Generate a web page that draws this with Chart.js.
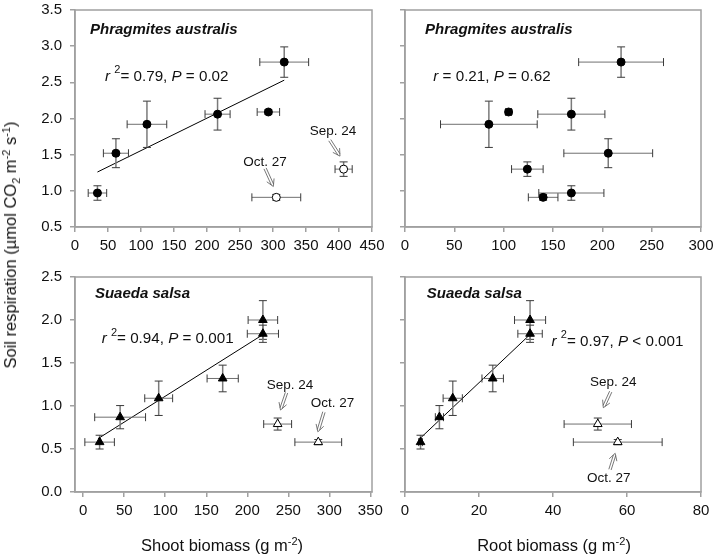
<!DOCTYPE html>
<html>
<head>
<meta charset="utf-8">
<script src="https://cdn.jsdelivr.net/npm/chart.js@4.4.1/dist/chart.umd.min.js"></script>
<style>
  body { margin: 0; background: #fff; }
  #wrap { position: relative; width: 718px; height: 559px; font-family: "Liberation Sans", Arial, sans-serif; }
  #wrap canvas { position: absolute; left: 0; top: 0; }
  .title { position: absolute; font-size: 16.5px; line-height: 20px; color: #111; white-space: nowrap; }
  .title sup, .title sub { font-size: 11px; line-height: 0; }
  #yTitle { left: 10px; top: 245px; transform: translate(-50%, -50%) rotate(-90deg); }
  #xTitleShoot { left: 222px; top: 545px; transform: translate(-50%, -50%); }
  #xTitleRoot { left: 554px; top: 545px; transform: translate(-50%, -50%); }
</style>
</head>
<body>
<div id="wrap">
  <canvas id="tl" width="718" height="559"></canvas>
  <canvas id="tr" width="718" height="559"></canvas>
  <canvas id="bl" width="718" height="559"></canvas>
  <canvas id="br" width="718" height="559"></canvas>
  <div class="title" id="yTitle">Soil respiration (µmol CO<sub>2</sub> m<sup>-2</sup> s<sup>-1</sup>)</div>
  <div class="title" id="xTitleShoot">Shoot biomass (g m<sup>-2</sup>)</div>
  <div class="title" id="xTitleRoot">Root biomass (g m<sup>-2</sup>)</div>
</div>
<script>
// ---------- Phragmites australis ----------
const paResp = [0.97, 1.52, 1.92, 2.06, 2.09, 2.78];
const paRespErr = [0.10, 0.20, 0.32, 0.22, 0.03, 0.21];
const paShoot = [34, 62, 109, 216, 293, 317];
const paShootErr = [14, 19, 30, 19, 17, 37];
// Oct. 27, Sep. 24
const paOpenResp = [0.91, 1.30];
const paOpenRespErr = [0.04, 0.10];
const paOpenShoot = [305, 407];
const paOpenShootErr = [37, 13];
// root biomass, same order as paResp then paOpenResp
const paRoot = [168.6, 206, 85, 168.6, 105, 219, 140, 124];
const paRootErr = [33, 45, 49, 34, 3, 43, 15, 16];
const paShootFitX = [34, 317];
const paShootFitY = [1.26, 2.53];

// ---------- Suaeda salsa ----------
const ssResp = [0.58, 0.87, 1.09, 1.32, 2.00, 1.84];
const ssRespErr = [0.08, 0.135, 0.20, 0.155, 0.225, 0.10];
const ssShoot = [20, 45, 92, 170, 219, 219];
const ssShootErr = [18, 31, 17, 19, 18, 19];
const ssRoot = [4.2, 9.3, 12.9, 23.7, 33.8, 33.8];
const ssRootErr = [0.5, 1.1, 2.6, 2.9, 4.2, 3.3];
// Sep. 24, Oct. 27
const ssOpenResp = [0.79, 0.58];
const ssOpenRespErr = [0.07, 0.03];
const ssOpenShoot = [237, 286.5];
const ssOpenShootErr = [17, 28.5];
const ssOpenRoot = [52.1, 57.5];
const ssOpenRootErr = [9.1, 12];
const ssShootFitX = [18, 219];
const ssShootFitY = [0.62, 1.83];
const ssRootFitX = [4, 34];
const ssRootFitY = [0.62, 1.84];

// ---------- tick labels ----------
const paRespTicks = [0.5, 1.0, 1.5, 2.0, 2.5, 3.0, 3.5];
const ssRespTicks = [0.0, 0.5, 1.0, 1.5, 2.0, 2.5];
const paShootTicks = [0, 50, 100, 150, 200, 250, 300, 350, 400, 450];
const paRootTicks = [0, 50, 100, 150, 200, 250, 300];
const ssShootTicks = [0, 50, 100, 150, 200, 250, 300, 350];
const ssRootTicks = [0, 20, 40, 60, 80];

const FONT = "'Liberation Sans', Arial, sans-serif";
const FRAME = "#a0a0a0";

function pts(xs, ys) {
  return xs.map((x, i) => ({ x: x, y: ys[i] }));
}

// ---------- text pieces drawn inside the panels ----------
function rText(r, p, rSquared) {
  const parts = [{ t: rSquared ? "r " : "r", i: true }];
  if (rSquared) parts.push({ t: "2", sup: true });
  parts.push({ t: rSquared ? "= " + r + ", " : " = " + r + ", " });
  parts.push({ t: "P", i: true });
  parts.push({ t: " " + p });
  return parts;
}

const TITLE_SIZE = 15;
const STAT_SIZE = 15.2;
const DATE_SIZE = 13.5;

const notes = {
  tl: [
    { x: 22.7, y: 3.22, parts: [{ t: "Phragmites australis", i: true, b: true }], size: TITLE_SIZE },
    { x: 45.5, y: 2.58, parts: rText("0.79", "= 0.02", true) },
    { x: 391, y: 1.82, parts: [{ t: "Sep. 24" }], size: DATE_SIZE, align: "center" },
    { arrow: [386, 1.70, 401.5, 1.48] },
    { x: 288, y: 1.40, parts: [{ t: "Oct. 27" }], size: DATE_SIZE, align: "center" },
    { arrow: [288, 1.31, 300.5, 1.06] }
  ],
  tr: [
    { x: 20.3, y: 3.22, parts: [{ t: "Phragmites australis", i: true, b: true }], size: TITLE_SIZE },
    { x: 28.7, y: 2.58, parts: rText("0.21", "= 0.62", false) }
  ],
  bl: [
    { x: 14.3, y: 2.30, parts: [{ t: "Suaeda salsa", i: true, b: true }], size: TITLE_SIZE },
    { x: 22.5, y: 1.78, parts: rText("0.94", "= 0.001", true) },
    { x: 252, y: 1.244, parts: [{ t: "Sep. 24" }], size: DATE_SIZE, align: "center" },
    { arrow: [247.8, 1.155, 240.5, 0.953] },
    { x: 304, y: 1.03, parts: [{ t: "Oct. 27" }], size: DATE_SIZE, align: "center" },
    { arrow: [293.4, 0.93, 286, 0.70] }
  ],
  br: [
    { x: 5.9, y: 2.30, parts: [{ t: "Suaeda salsa", i: true, b: true }], size: TITLE_SIZE },
    { x: 39.6, y: 1.75, parts: rText("0.97", "< 0.001", true) },
    { x: 56.3, y: 1.28, parts: [{ t: "Sep. 24" }], size: DATE_SIZE, align: "center" },
    { arrow: [55.6, 1.167, 53.6, 0.98] },
    { x: 55.1, y: 0.16, parts: [{ t: "Oct. 27" }], size: DATE_SIZE, align: "center" },
    { arrow: [55.4, 0.26, 56.8, 0.45] }
  ]
};

function partFont(part, size) {
  const s = part.sup ? Math.round(size * 0.7) : size;
  return (part.i ? "italic " : "") + (part.b ? "bold " : "") + s + "px " + FONT;
}

function drawRich(ctx, parts, x, y, size, align) {
  let total = 0;
  parts.forEach((part) => {
    ctx.font = partFont(part, size);
    total += ctx.measureText(part.t).width;
  });
  let cx = align === "center" ? x - total / 2 : x;
  ctx.textBaseline = "middle";
  ctx.textAlign = "left";
  parts.forEach((part) => {
    ctx.font = partFont(part, size);
    ctx.fillText(part.t, cx, part.sup ? y - size * 0.4 : y);
    cx += ctx.measureText(part.t).width;
  });
}

function drawArrow(ctx, x1, y1, x2, y2) {
  const len = Math.hypot(x2 - x1, y2 - y1);
  const dx = (x2 - x1) / len;
  const dy = (y2 - y1) / len;
  const nx = -dy;
  const ny = dx;
  ctx.strokeStyle = "#555";
  ctx.lineWidth = 0.8;
  ctx.beginPath();
  [-1.2, 1.2].forEach((o) => {
    ctx.moveTo(x1 + nx * o, y1 + ny * o);
    ctx.lineTo(x2 - dx * 2 + nx * o, y2 - dy * 2 + ny * o);
  });
  ctx.moveTo(x2 - dx * 7 + nx * 4, y2 - dy * 7 + ny * 4);
  ctx.lineTo(x2, y2);
  ctx.lineTo(x2 - dx * 7 - nx * 4, y2 - dy * 7 - ny * 4);
  ctx.stroke();
}

const notesPlugin = {
  id: "notes",
  afterDraw(chart) {
    const list = notes[chart.canvas.id] || [];
    const ctx = chart.ctx;
    const xs = chart.scales.x;
    const ys = chart.scales.y;
    ctx.save();
    ctx.fillStyle = "#111";
    list.forEach((n) => {
      if (n.arrow) {
        const a = n.arrow;
        drawArrow(ctx, xs.getPixelForValue(a[0]), ys.getPixelForValue(a[1]),
          xs.getPixelForValue(a[2]), ys.getPixelForValue(a[3]));
      } else {
        drawRich(ctx, n.parts, xs.getPixelForValue(n.x), ys.getPixelForValue(n.y),
          n.size || STAT_SIZE, n.align || "left");
      }
    });
    ctx.restore();
  }
};

// ---------- error bars + frame ----------
const errorBarPlugin = {
  id: "errorBars",
  beforeDatasetDraw(chart, args) {
    const ds = chart.data.datasets[args.index];
    if (!ds.xErr && !ds.yErr) return;
    const ctx = chart.ctx;
    const xs = chart.scales.x;
    const ys = chart.scales.y;
    const cap = 4;
    ctx.save();
    ctx.lineWidth = 1;
    ds.data.forEach((p, i) => {
      const px = xs.getPixelForValue(p.x);
      const py = ys.getPixelForValue(p.y);
      if (ds.xErr) {
        const l = xs.getPixelForValue(p.x - ds.xErr[i]);
        const r = xs.getPixelForValue(p.x + ds.xErr[i]);
        ctx.strokeStyle = "#707070";
        ctx.beginPath();
        ctx.moveTo(l, py); ctx.lineTo(r, py);
        ctx.stroke();
        ctx.strokeStyle = "#3a3a3a";
        ctx.beginPath();
        ctx.moveTo(l, py - cap); ctx.lineTo(l, py + cap);
        ctx.moveTo(r, py - cap); ctx.lineTo(r, py + cap);
        ctx.stroke();
      }
      if (ds.yErr) {
        const t = ys.getPixelForValue(p.y + ds.yErr[i]);
        const b = ys.getPixelForValue(p.y - ds.yErr[i]);
        ctx.strokeStyle = "#7a7a7a";
        ctx.lineWidth = 1.5;
        ctx.beginPath();
        ctx.moveTo(px, t); ctx.lineTo(px, b);
        ctx.stroke();
        ctx.lineWidth = 1;
        ctx.strokeStyle = "#3a3a3a";
        ctx.beginPath();
        ctx.moveTo(px - cap, t); ctx.lineTo(px + cap, t);
        ctx.moveTo(px - cap, b); ctx.lineTo(px + cap, b);
        ctx.stroke();
      }
    });
    ctx.restore();
  }
};

const framePlugin = {
  id: "frame",
  afterDraw(chart) {
    const a = chart.chartArea;
    const ctx = chart.ctx;
    ctx.save();
    ctx.strokeStyle = FRAME;
    ctx.lineWidth = 1.5;
    ctx.strokeRect(a.left, a.top, a.right - a.left, a.bottom - a.top);
    ctx.restore();
  }
};

Chart.register(notesPlugin, errorBarPlugin, framePlugin);

// ---------- chart building ----------
function filledSet(xs, ys, xErr, yErr, style) {
  return {
    type: "scatter",
    data: pts(xs, ys),
    xErr: xErr,
    yErr: yErr,
    pointStyle: style,
    pointRadius: style === "triangle" ? 5 : 4,
    backgroundColor: "#000",
    borderColor: "#000",
    borderWidth: 1
  };
}

function openSet(xs, ys, xErr, yErr, style) {
  return {
    type: "scatter",
    data: pts(xs, ys),
    xErr: xErr,
    yErr: yErr,
    pointStyle: style,
    pointRadius: style === "triangle" ? 5 : 4,
    backgroundColor: "#fff",
    borderColor: "#000",
    borderWidth: 1
  };
}

function fitSet(xs, ys) {
  return {
    type: "line",
    data: pts(xs, ys),
    borderColor: "#000",
    borderWidth: 1,
    pointRadius: 0,
    fill: false
  };
}

function makeChart(id, datasets, xRange, xTicks, yRange, yTicks, showYLabels, padding) {
  return new Chart(document.getElementById(id), {
    data: { datasets: datasets },
    options: {
      responsive: false,
      animation: false,
      events: [],
      layout: { padding: padding },
      plugins: { legend: { display: false }, tooltip: { enabled: false } },
      scales: {
        x: {
          type: "linear",
          min: xRange[0],
          max: xRange[1],
          afterBuildTicks: (axis) => { axis.ticks = xTicks.map((v) => ({ value: v })); },
          afterFit: (axis) => { axis.height = 35; axis.paddingLeft = 0; axis.paddingRight = 0; },
          grid: { drawOnChartArea: false, drawTicks: true, tickLength: 5, tickColor: FRAME, lineWidth: 1.5 },
          border: { color: FRAME, width: 1.5 },
          ticks: {
            padding: 5,
            maxRotation: 0,
            autoSkip: false,
            color: "#111",
            font: { family: FONT, size: 15 },
            callback: (v) => String(v)
          }
        },
        y: {
          type: "linear",
          min: yRange[0],
          max: yRange[1],
          afterBuildTicks: (axis) => { axis.ticks = yTicks.map((v) => ({ value: v })); },
          afterFit: (axis) => { axis.width = 40; axis.paddingTop = 0; axis.paddingBottom = 0; },
          grid: { drawOnChartArea: false, drawTicks: true, tickLength: 5, tickColor: FRAME, lineWidth: 1.5 },
          border: { color: FRAME, width: 1.5 },
          ticks: {
            padding: 8,
            autoSkip: false,
            color: showYLabels ? "#111" : "rgba(0,0,0,0)",
            font: { family: FONT, size: 15 },
            callback: (v) => Number(v).toFixed(1)
          }
        }
      }
    }
  });
}

makeChart("tl", [
  filledSet(paShoot, paResp, paShootErr, paRespErr, "circle"),
  openSet(paOpenShoot, paOpenResp, paOpenShootErr, paOpenRespErr, "circle"),
  fitSet(paShootFitX, paShootFitY)
], [0, 450], paShootTicks, [0.5, 3.5], paRespTicks, true,
  { left: 35, top: 10, right: 346, bottom: 297 });

makeChart("tr", [
  filledSet(paRoot, paResp.concat(paOpenResp), paRootErr, paRespErr.concat(paOpenRespErr), "circle")
], [0, 300], paRootTicks, [0.5, 3.5], paRespTicks, false,
  { left: 365, top: 10, right: 17, bottom: 297 });

makeChart("bl", [
  filledSet(ssShoot, ssResp, ssShootErr, ssRespErr, "triangle"),
  openSet(ssOpenShoot, ssOpenResp, ssOpenShootErr, ssOpenRespErr, "triangle"),
  fitSet(ssShootFitX, ssShootFitY)
], [-10, 352], ssShootTicks, [0, 2.5], ssRespTicks, true,
  { left: 35, top: 277, right: 346, bottom: 32 });

makeChart("br", [
  filledSet(ssRoot, ssResp, ssRootErr, ssRespErr, "triangle"),
  openSet(ssOpenRoot, ssOpenResp, ssOpenRootErr, ssOpenRespErr, "triangle"),
  fitSet(ssRootFitX, ssRootFitY)
], [0, 80], ssRootTicks, [0, 2.5], ssRespTicks, false,
  { left: 365, top: 277, right: 17, bottom: 32 });
</script>
</body>
</html>
